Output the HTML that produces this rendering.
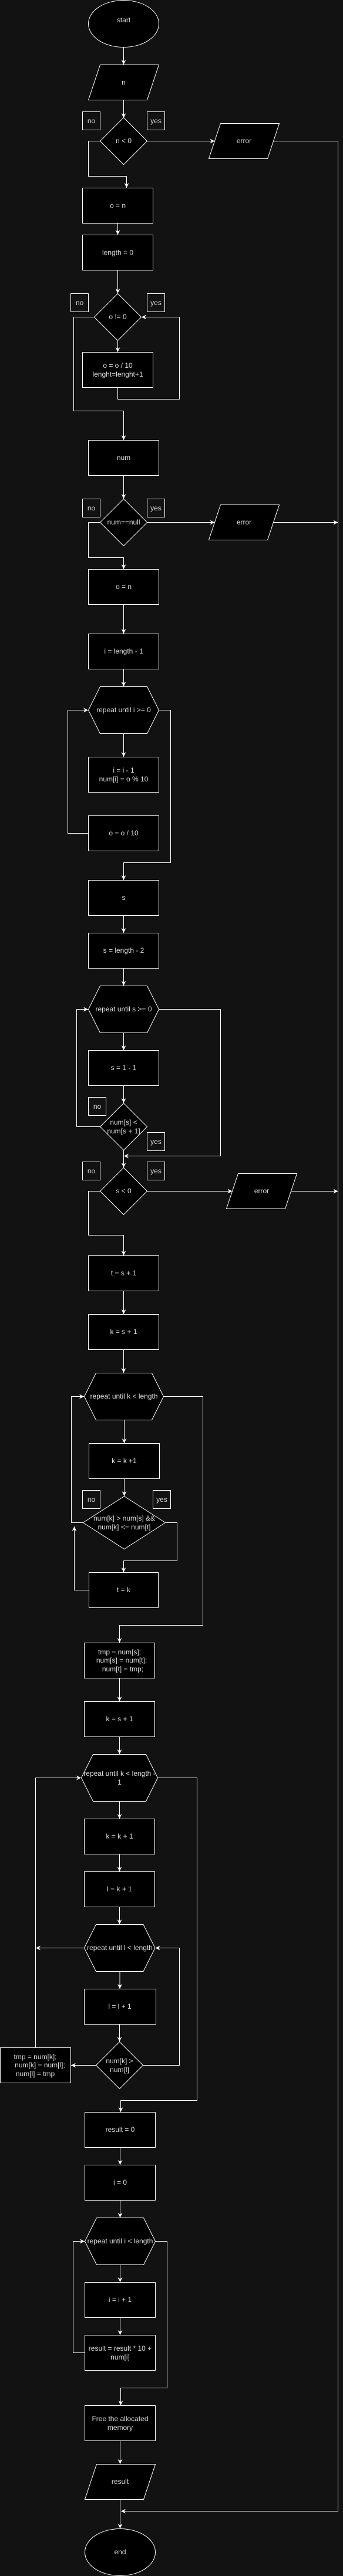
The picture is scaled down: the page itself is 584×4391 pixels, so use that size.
<!DOCTYPE html>
<html><head><meta charset="utf-8"><style>
html,body{margin:0;padding:0;background:#121212;}
svg{display:block}
text{font-family:"Liberation Sans",Arial,sans-serif;font-size:12px;fill:#dcdcdc;text-anchor:middle;dominant-baseline:central}
.s{fill:#000;stroke:#fff;stroke-width:1}
.l{fill:none;stroke:#fff;stroke-width:1}
.lb{fill:none;stroke:#fff;stroke-width:1}
</style></head><body>
<svg width="584" height="4391" viewBox="0 0 584 4391" xmlns="http://www.w3.org/2000/svg">
<defs><marker id="a" markerUnits="userSpaceOnUse" markerWidth="10" markerHeight="10" refX="8" refY="4" orient="auto"><path d="M0,0 L8,4 L0,8 L2.5,4 z" fill="#fff"/></marker></defs>
<rect width="584" height="4391" fill="#121212"/>
<g class="l" marker-end="url(#a)">
<polyline points="210.5,80.5 210.5,110"/>
<polyline points="210.5,171 210.5,201"/>
<polyline points="250.5,240.5 365.5,240.5"/>
<polyline points="465.5,240.5 575.5,240.5 575.5,4280.5 206,4280.5"/>
<polyline points="170.5,240.5 150.5,240.5 150.5,300.5 215.5,300.5 215.5,320"/>
<polyline points="200.5,381 200.5,400"/>
<polyline points="200.5,461 200.5,500"/>
<polyline points="200.5,580.5 200.5,600"/>
<polyline points="200.5,660.5 200.5,680.5 305.5,680.5 305.5,540.5 241,540.5"/>
<polyline points="160.5,540.5 125.5,540.5 125.5,700.5 210.5,700.5 210.5,750"/>
<polyline points="210.5,810.5 210.5,850"/>
<polyline points="250.5,890.5 365.5,890.5"/>
<polyline points="465.5,890.5 575.5,890.5"/>
<polyline points="170.5,890.5 150.5,890.5 150.5,950.5 210.5,950.5 210.5,970"/>
<polyline points="210.5,1030.5 210.5,1080"/>
<polyline points="210.5,1140.5 210.5,1170"/>
<polyline points="210.5,1250.5 210.5,1290"/>
<polyline points="150.5,1420.5 115.5,1420.5 115.5,1210.5 150,1210.5"/>
<polyline points="270.5,1210.5 290.5,1210.5 290.5,1470.5 210.5,1470.5 210.5,1500"/>
<polyline points="210.5,1560.5 210.5,1590"/>
<polyline points="210.5,1650.5 210.5,1680"/>
<polyline points="210.5,1760.5 210.5,1790"/>
<polyline points="210.5,1850.5 210.5,1880"/>
<polyline points="170.5,1920.5 130.5,1920.5 130.5,1720.5 150,1720.5"/>
<polyline points="270.5,1720.5 375.5,1720.5 375.5,1970.5 211,1970.5"/>
<polyline points="210.5,1960.5 210.5,1990"/>
<polyline points="250.5,2030.5 395.5,2030.5"/>
<polyline points="495.5,2030.5 575.5,2030.5"/>
<polyline points="170.5,2030.5 150.5,2030.5 150.5,2105.5 210.5,2105.5 210.5,2140"/>
<polyline points="210.5,2200.5 210.5,2240"/>
<polyline points="210.5,2300.5 210.5,2340"/>
<polyline points="211.5,2420.5 211.5,2460"/>
<polyline points="211.5,2520.5 211.5,2550"/>
<polyline points="141.5,2595.5 121.5,2595.5 121.5,2380.5 143,2380.5"/>
<polyline points="281.5,2595.5 301.5,2595.5 301.5,2660.5 210.5,2660.5 210.5,2680"/>
<polyline points="151.5,2710.5 126.5,2710.5 126.5,2602"/>
<polyline points="278.5,2380.5 345.5,2380.5 345.5,2770.5 203.5,2770.5 203.5,2800"/>
<polyline points="203.5,2860.5 203.5,2900"/>
<polyline points="203.5,2960.5 203.5,2990"/>
<polyline points="203.5,3070.5 203.5,3100"/>
<polyline points="203.5,3160.5 203.5,3190"/>
<polyline points="203.5,3250.5 203.5,3280"/>
<polyline points="143.5,3320.5 61,3320.5"/>
<polyline points="204,3360.5 204,3390"/>
<polyline points="203.5,3450.5 203.5,3480"/>
<polyline points="163.5,3520.5 121,3520.5"/>
<polyline points="243.5,3520.5 305.5,3520.5 305.5,3320.5 264.5,3320.5"/>
<polyline points="60.5,3490.5 60.5,3030.5 138,3030.5"/>
<polyline points="268.5,3030.5 335.5,3030.5 335.5,3580.5 205.5,3580.5 205.5,3600"/>
<polyline points="204.5,3660.5 204.5,3690"/>
<polyline points="204.5,3750.5 204.5,3780"/>
<polyline points="204.5,3860.5 204.5,3890"/>
<polyline points="204.5,3950.5 204.5,3980"/>
<polyline points="144.5,4010.5 124.5,4010.5 124.5,3820.5 144,3820.5"/>
<polyline points="264.5,3820.5 284.5,3820.5 284.5,4070.5 205.5,4070.5 205.5,4100"/>
<polyline points="204.5,4160.5 204.5,4200"/>
<polyline points="204.5,4260.5 204.5,4310"/>
</g>

<ellipse class="s" cx="210.5" cy="40.5" rx="60" ry="40"/><text x="210.5" y="34">start</text>
<polygon class="s" points="170.5,110.5 270.5,110.5 250.5,170.5 150.5,170.5"/><text x="210.5" y="140.5">n</text>
<rect class="lb" x="140.5" y="190.5" width="30" height="31"/><text x="155.5" y="206">no</text>
<rect class="lb" x="250.5" y="190.5" width="30" height="31"/><text x="265.5" y="206">yes</text>
<polygon class="s" points="210.5,200.5 250.5,240.5 210.5,280.5 170.5,240.5"/><text x="210.5" y="240">n &lt; 0</text>
<polygon class="s" points="375.5,210.5 475.5,210.5 455.5,270.5 355.5,270.5"/><text x="415.5" y="240">error</text>
<rect class="s" x="140.5" y="320.5" width="120" height="60"/><text x="200.5" y="350.5">o = n</text>
<rect class="s" x="140.5" y="400.5" width="120" height="60"/><text x="200.5" y="430.5">length = 0</text>
<rect class="lb" x="120.5" y="500.5" width="30" height="31"/><text x="135.5" y="516">no</text>
<rect class="lb" x="250.5" y="500.5" width="30" height="31"/><text x="265.5" y="516">yes</text>
<polygon class="s" points="200.5,500.5 240.5,540.5 200.5,580.5 160.5,540.5"/><text x="200.5" y="540">o != 0</text>
<rect class="s" x="140.5" y="600.5" width="120" height="60"/><text x="200.5" y="623">o = o / 10</text><text x="200.5" y="638">lenght=lenght+1</text>
<rect class="s" x="150.5" y="750.5" width="120" height="60"/><text x="210.5" y="780">num</text>
<rect class="lb" x="140.5" y="850.5" width="30" height="31"/><text x="155.5" y="866">no</text>
<rect class="lb" x="250.5" y="850.5" width="30" height="31"/><text x="265.5" y="866">yes</text>
<polygon class="s" points="210.5,850.5 250.5,890.5 210.5,930.5 170.5,890.5"/><text x="210.5" y="890">num==null</text>
<polygon class="s" points="375.5,860.5 475.5,860.5 455.5,920.5 355.5,920.5"/><text x="415.5" y="890">error</text>
<rect class="s" x="150.5" y="970.5" width="120" height="60"/><text x="210.5" y="1000">o = n</text>
<rect class="s" x="150.5" y="1080.5" width="120" height="60"/><text x="210.5" y="1110">i = length - 1</text>
<polygon class="s" points="170.5,1170.5 250.5,1170.5 270.5,1210.5 250.5,1250.5 170.5,1250.5 150.5,1210.5"/><text x="210.5" y="1210">repeat until i &gt;= 0</text>
<rect class="s" x="150.5" y="1290.5" width="120" height="60"/><text x="210.5" y="1313">i = i - 1</text><text x="210.5" y="1328">num[i] = o % 10</text>
<rect class="s" x="150.5" y="1390.5" width="120" height="60"/><text x="210.5" y="1420">o = o / 10</text>
<rect class="s" x="150.5" y="1500.5" width="120" height="60"/><text x="210.5" y="1530">s</text>
<rect class="s" x="150.5" y="1590.5" width="120" height="60"/><text x="210.5" y="1620">s = length - 2</text>
<polygon class="s" points="170.5,1680.5 250.5,1680.5 270.5,1720.5 250.5,1760.5 170.5,1760.5 150.5,1720.5"/><text x="210.5" y="1720">repeat until s &gt;= 0</text>
<rect class="s" x="150.5" y="1790.5" width="120" height="60"/><text x="210.5" y="1820">s = 1 - 1</text>
<rect class="lb" x="150.5" y="1870.5" width="30" height="31"/><text x="165.5" y="1886">no</text>
<polygon class="s" points="210.5,1880.5 250.5,1920.5 210.5,1960.5 170.5,1920.5"/><text x="210.5" y="1913">num[s] &lt;</text><text x="210.5" y="1928">num[s + 1]</text>
<rect class="lb" x="250.5" y="1930.5" width="30" height="31"/><text x="265.5" y="1946">yes</text>
<rect class="lb" x="140.5" y="1980.5" width="30" height="31"/><text x="155.5" y="1996">no</text>
<rect class="lb" x="250.5" y="1980.5" width="30" height="31"/><text x="265.5" y="1996">yes</text>
<polygon class="s" points="210.5,1990.5 250.5,2030.5 210.5,2070.5 170.5,2030.5"/><text x="210.5" y="2030">s &lt; 0</text>
<polygon class="s" points="405.5,2000.5 505.5,2000.5 485.5,2060.5 385.5,2060.5"/><text x="445.5" y="2030">error</text>
<rect class="s" x="150.5" y="2140.5" width="120" height="60"/><text x="210.5" y="2170">t = s + 1</text>
<rect class="s" x="150.5" y="2240.5" width="120" height="60"/><text x="210.5" y="2270">k = s + 1</text>
<polygon class="s" points="163.5,2340.5 258.5,2340.5 278.5,2380.5 258.5,2420.5 163.5,2420.5 143.5,2380.5"/><text x="211" y="2380">repeat until k &lt; length</text>
<rect class="s" x="151.5" y="2460.5" width="120" height="60"/><text x="211.5" y="2490">k = k +1</text>
<rect class="lb" x="140.5" y="2540.5" width="30" height="31"/><text x="155.5" y="2556">no</text>
<rect class="lb" x="260.5" y="2540.5" width="30" height="31"/><text x="275.5" y="2556">yes</text>
<polygon class="s" points="211.5,2550.5 281.5,2595.5 211.5,2640.5 141.5,2595.5"/><text x="211.5" y="2588">num[k] &gt; num[s] &amp;&amp;</text><text x="211.5" y="2603">num[k] &lt;= num[t]</text>
<rect class="s" x="151.5" y="2680.5" width="118" height="60"/><text x="210.5" y="2710">t = k</text>
<rect class="s" x="143.5" y="2800.5" width="120" height="60"/><text x="203.5" y="2816">tmp = num[s];</text><text x="207" y="2830">num[s] = num[t];</text><text x="209" y="2845">num[t] = tmp;</text>
<rect class="s" x="143.5" y="2900.5" width="120" height="60"/><text x="203.5" y="2930">k = s + 1</text>
<polygon class="s" points="158.5,2990.5 248.5,2990.5 268.5,3030.5 248.5,3070.5 158.5,3070.5 138.5,3030.5"/><text x="203.5" y="3023">repeat until k &lt; length -</text><text x="203.5" y="3038">1</text>
<rect class="s" x="143.5" y="3100.5" width="120" height="60"/><text x="203.5" y="3130">k = k  + 1</text>
<rect class="s" x="143.5" y="3190.5" width="120" height="60"/><text x="203.5" y="3220">l = k + 1</text>
<polygon class="s" points="163.5,3280.5 244,3280.5 264,3320.5 244,3360.5 163.5,3360.5 143.5,3320.5"/><text x="204" y="3320">repeat until l &lt; length</text>
<rect class="s" x="143.5" y="3390.5" width="122" height="60"/><text x="204" y="3420">l = l + 1</text>
<polygon class="s" points="203.5,3480.5 243.5,3520.5 203.5,3560.5 163.5,3520.5"/><text x="203.5" y="3513">num[k] &gt;</text><text x="203.5" y="3528">num[l]</text>
<rect class="s" x="0.5" y="3490.5" width="120" height="60"/><text x="60" y="3506">tmp = num[k];</text><text x="68" y="3520">num[k] = num[l];</text><text x="60" y="3535">num[l] = tmp</text>
<rect class="s" x="144.5" y="3600.5" width="120" height="60"/><text x="204.5" y="3630">result = 0</text>
<rect class="s" x="144.5" y="3690.5" width="120" height="60"/><text x="204.5" y="3720">i = 0</text>
<polygon class="s" points="164.5,3780.5 244.5,3780.5 264.5,3820.5 244.5,3860.5 164.5,3860.5 144.5,3820.5"/><text x="204.5" y="3820">repeat until i &lt; length</text>
<rect class="s" x="144.5" y="3890.5" width="120" height="60"/><text x="204.5" y="3920">i = i + 1</text>
<rect class="s" x="144.5" y="3980.5" width="120" height="60"/><text x="204.5" y="4003">result = result * 10 +</text><text x="204.5" y="4018">num[i]</text>
<rect class="s" x="144.5" y="4100.5" width="120" height="60"/><text x="204.5" y="4123">Free the allocated</text><text x="204.5" y="4138">memory</text>
<polygon class="s" points="164.5,4200.5 264.5,4200.5 244.5,4260.5 144.5,4260.5"/><text x="204.5" y="4230">result</text>
<ellipse class="s" cx="204.5" cy="4350.5" rx="60" ry="40"/><text x="204.5" y="4350">end</text>
</svg>
</body></html>
